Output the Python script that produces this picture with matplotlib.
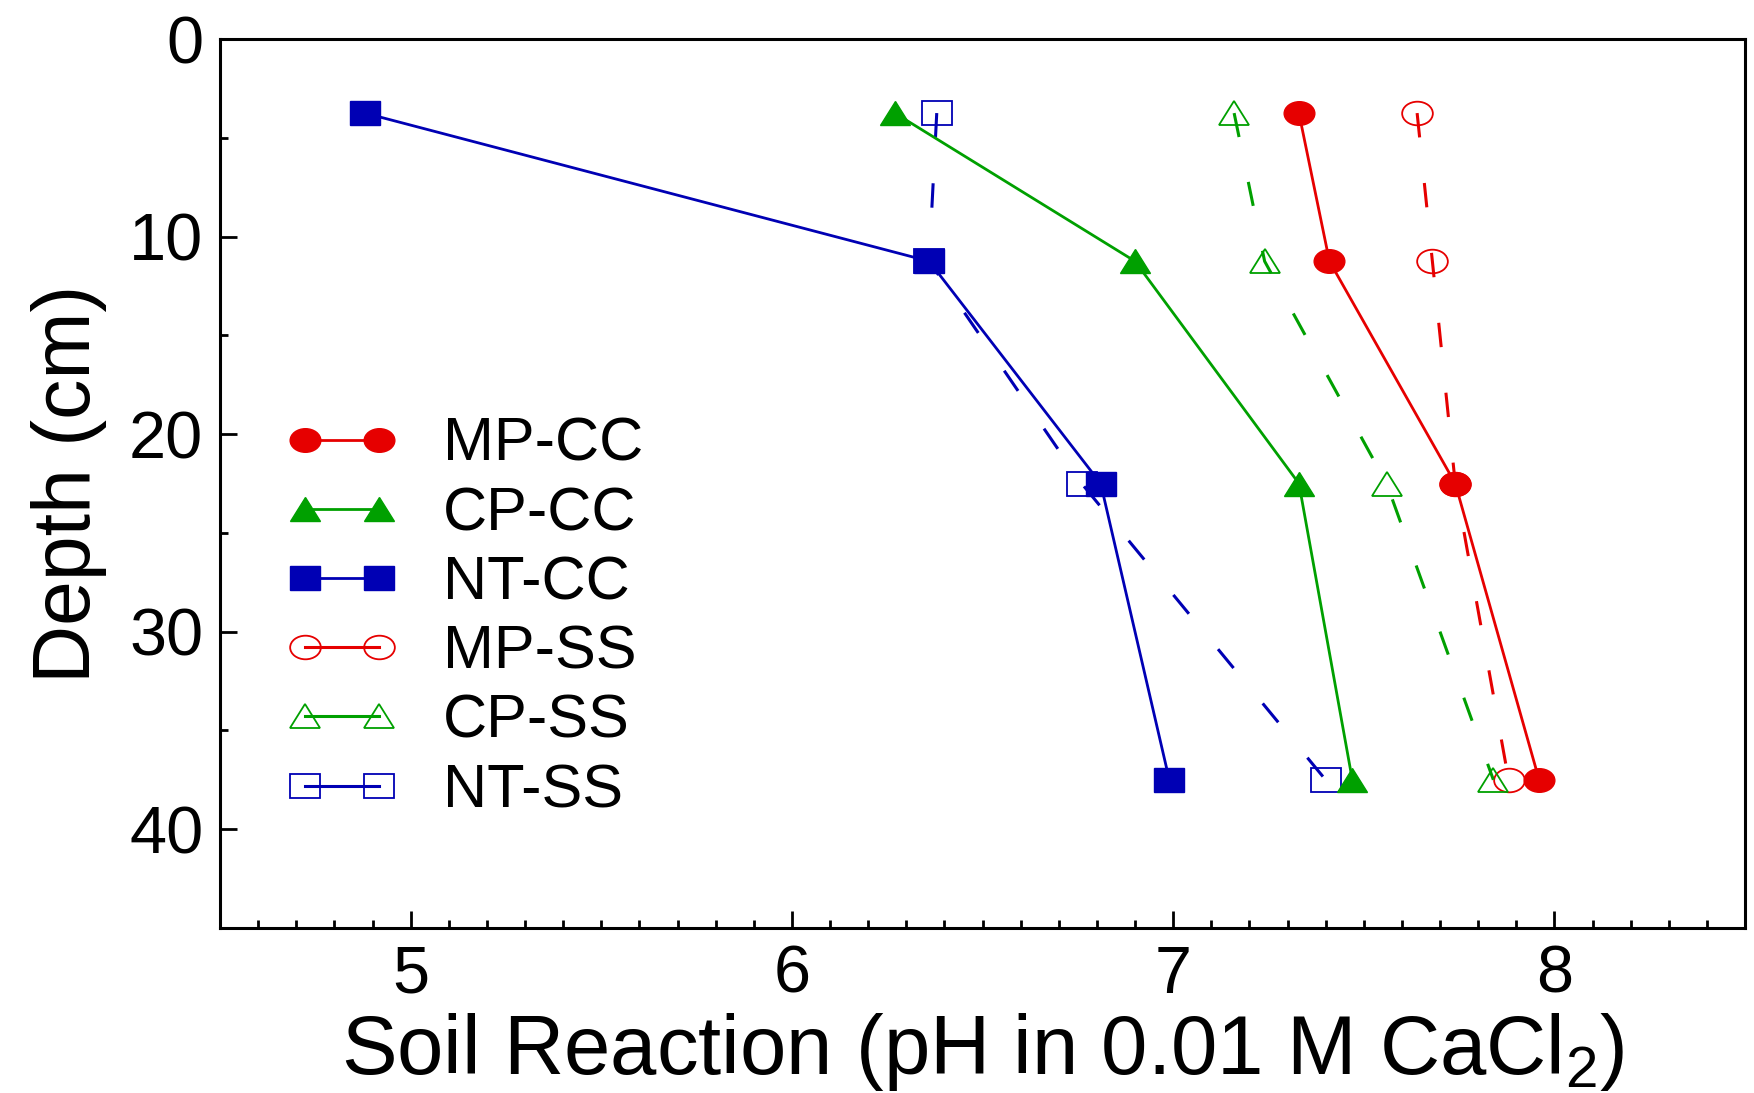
import numpy as np
import matplotlib
matplotlib.use('Agg')
import matplotlib.pyplot as plt
from matplotlib.markers import MarkerStyle
from matplotlib.transforms import Affine2D
from matplotlib.ticker import MultipleLocator

plt.rcParams['font.family'] = ['Liberation Sans', 'DejaVu Sans']
plt.rcParams['mathtext.default'] = 'regular'

# depth of each sampled layer (cm) and soil pH per treatment
depth = [3.75, 11.25, 22.5, 37.5]
ph_mp_cc = [7.33, 7.41, 7.74, 7.96]
ph_cp_cc = [6.27, 6.90, 7.33, 7.47]
ph_nt_cc = [4.88, 6.36, 6.81, 6.99]
ph_mp_ss = [7.64, 7.68, 7.74, 7.88]
ph_cp_ss = [7.16, 7.24, 7.56, 7.84]
ph_nt_ss = [6.38, 6.36, 6.76, 7.40]

labels = ['MP-CC', 'CP-CC', 'NT-CC', 'MP-SS', 'CP-SS', 'NT-SS']
values = [ph_mp_cc, ph_cp_cc, ph_nt_cc, ph_mp_ss, ph_cp_ss, ph_nt_ss]

red, green, blue = '#e60000', '#00a000', '#0000b4'
colors = [red, green, blue, red, green, blue]
shapes = ['o', '^', 's', 'o', '^', 's']
filled = [True, True, True, False, False, False]

# the source picture is a little wider than tall, so are its markers
stretch = Affine2D().scale(1.3, 1.0)

fig = plt.figure(figsize=(17.54, 10.93), dpi=100)
ax = fig.add_axes([220 / 1754, (1093 - 928) / 1093, 1525 / 1754, 889 / 1093])

handles = []
for lab, ph, col, shp, full in zip(labels, values, colors, shapes, filled):
    mk = MarkerStyle(shp, transform=stretch)
    if full:
        h, = ax.plot(ph, depth, color=col, lw=2.0, marker=mk, ms=17,
                     mfc=col, mec=col, mew=1.0, zorder=4, label=lab)
    else:
        # white mask under open markers hides the dashes inside them
        ax.plot(ph, depth, ls='none', marker=mk, ms=17, mfc='white',
                mec='none', zorder=2.5)
        h, = ax.plot(ph, depth, color=col, lw=2.2, ls=(0, (8, 15)),
                     marker=mk, ms=17, mfc='none', mec=col, mew=1.3,
                     zorder=3, label=lab)
    handles.append(h)

ax.set_xlim(4.5, 8.5)
ax.set_ylim(45, 0)
ax.xaxis.set_major_locator(MultipleLocator(1))
ax.xaxis.set_minor_locator(MultipleLocator(0.1))
ax.yaxis.set_major_locator(MultipleLocator(10))
ax.yaxis.set_minor_locator(MultipleLocator(5))
ax.tick_params(which='both', direction='in', top=False, right=False,
               width=2, labelsize=48, pad=12)
ax.tick_params(which='major', length=12)
ax.tick_params(which='minor', length=6)
for sp in ax.spines.values():
    sp.set_linewidth(2.2)

ax.set_xlabel('Soil Reaction (pH in 0.01 M CaCl$_2$)', fontsize=60)
ax.set_ylabel('Depth (cm)', fontsize=58)
ax.xaxis.set_label_coords(0.5, -0.093)
ax.yaxis.set_label_coords(-0.074, 0.5)

leg = ax.legend(handles=handles, loc='upper left', fontsize=44,
                bbox_to_anchor=(287 / 1754, 1 - 417 / 1093),
                bbox_transform=fig.transFigure, frameon=False,
                borderpad=0, borderaxespad=0, handlelength=1.8,
                handletextpad=0.75, labelspacing=0.2, numpoints=2)
for ln in leg.get_lines():
    ln.set_linestyle('-')

fig.savefig('out.png', dpi=100)
